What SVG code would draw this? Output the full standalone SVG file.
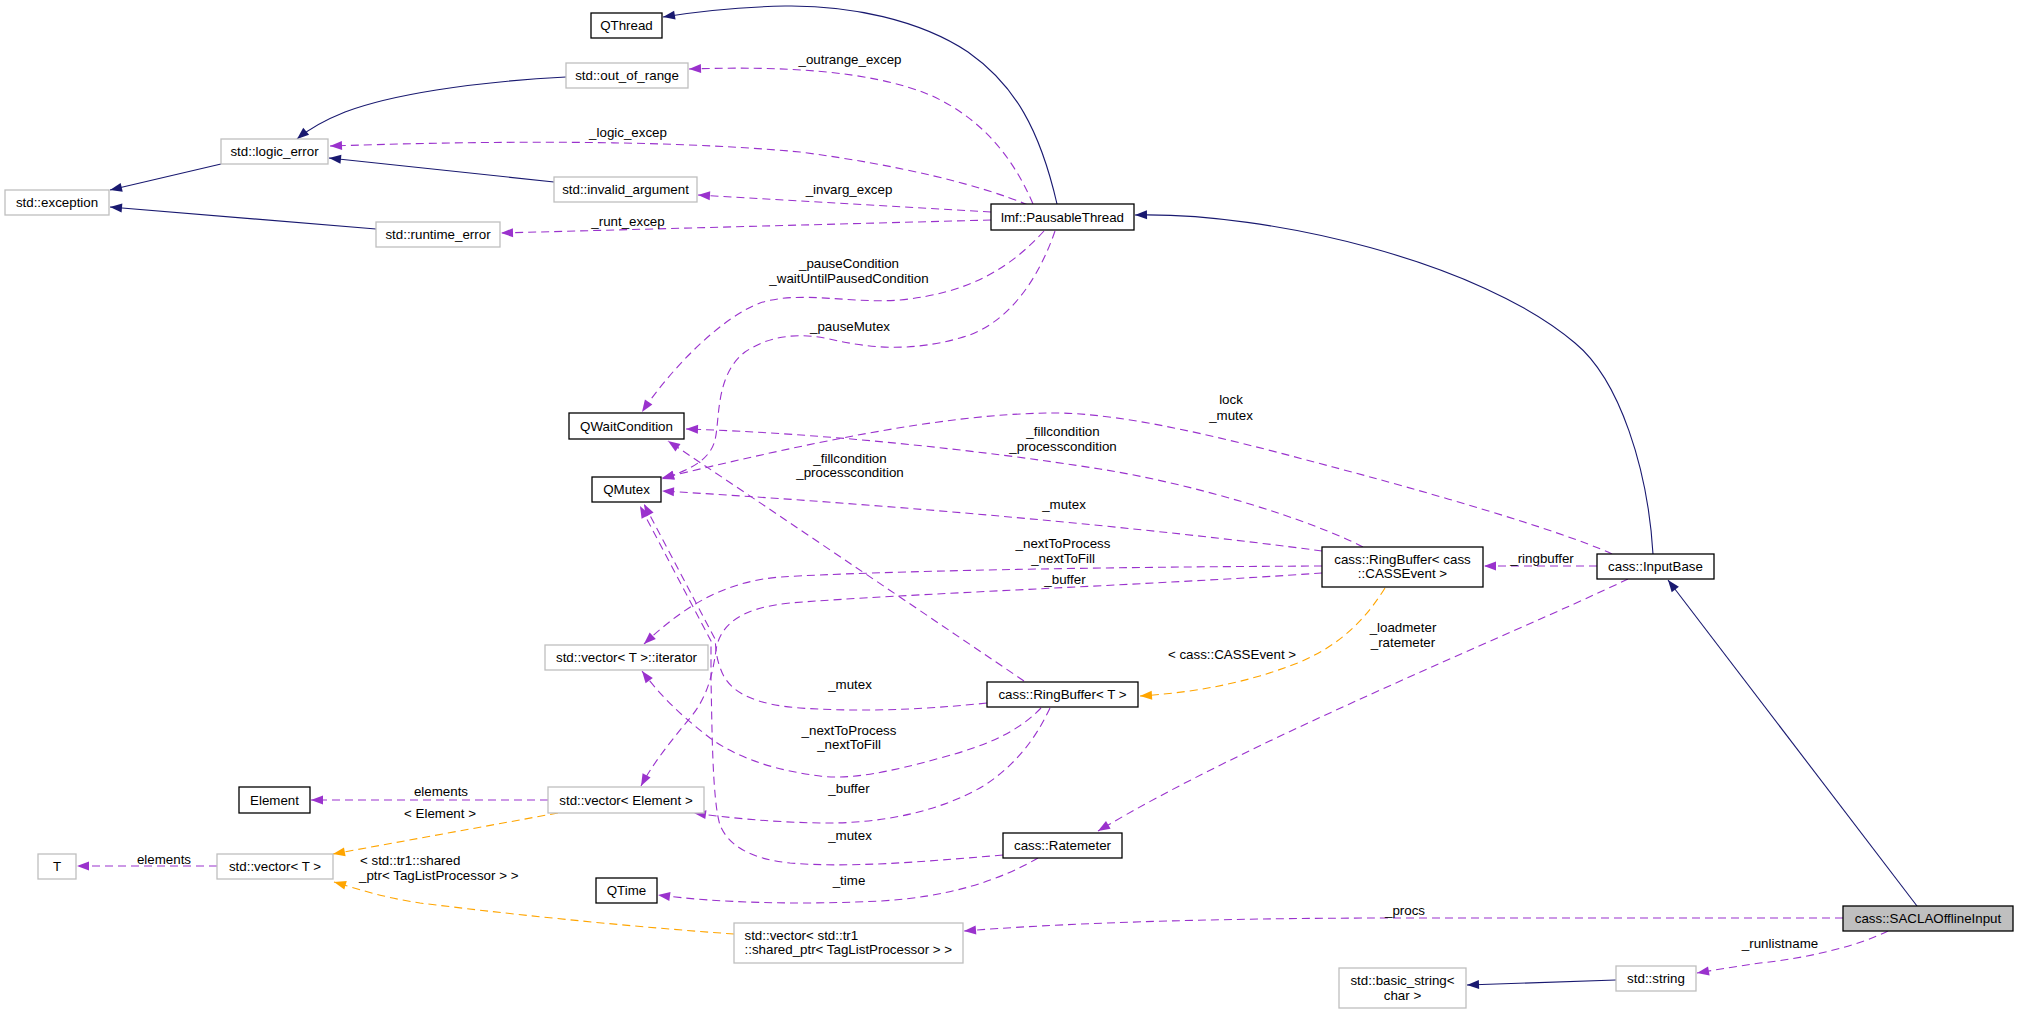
<svg xmlns="http://www.w3.org/2000/svg" width="2019" height="1013" viewBox="0 0 2019 1013">
<defs>
<style>
text{font-family:"Liberation Sans",Arial,sans-serif;font-size:13.33px;fill:#000}
.c{text-anchor:middle}
.l{text-anchor:start}
.nb{fill:#fff;stroke:#000;stroke-width:1.3}
.ng{fill:#fff;stroke:#bfbfbf;stroke-width:1.3}
.sel{fill:#bfbfbf;stroke:#000;stroke-width:1.3}
.inh{fill:none;stroke:#191970;stroke-width:1.1;marker-end:url(#an)}
.use{fill:none;stroke:#9a32cd;stroke-width:1.1;stroke-dasharray:8,5;marker-end:url(#ap)}
.tpl{fill:none;stroke:#ffa500;stroke-width:1.1;stroke-dasharray:8,5;marker-end:url(#ao)}
</style>
<marker id="an" markerUnits="userSpaceOnUse" markerWidth="14" markerHeight="10" refX="12" refY="4.5" orient="auto" overflow="visible"><path d="M0,0 L12,4.5 L0,9 z" fill="#191970"/></marker>
<marker id="ap" markerUnits="userSpaceOnUse" markerWidth="14" markerHeight="10" refX="12" refY="4.5" orient="auto" overflow="visible"><path d="M0,0 L12,4.5 L0,9 z" fill="#9a32cd"/></marker>
<marker id="ao" markerUnits="userSpaceOnUse" markerWidth="14" markerHeight="10" refX="12" refY="4.5" orient="auto" overflow="visible"><path d="M0,0 L12,4.5 L0,9 z" fill="#ffa500"/></marker>
</defs>
<rect x="0" y="0" width="2019" height="1013" fill="#ffffff"/>

<g id="connectors">
  <!-- inheritance -->
  <path class="inh" d="M1057,204 C1040,130 1015,85 968,52 C920,20 850,5 785,6 C740,7 700,11 663,17"/>
  <path class="inh" d="M566,77 C470,82 390,95 345,112 C325,120 310,128 297,139"/>
  <path class="inh" d="M221,164 L110,190"/>
  <path class="inh" d="M554,182 L329,158"/>
  <path class="inh" d="M376,229 L110,207"/>
  <path class="inh" d="M1653,554 C1648,470 1620,380 1575,343 C1480,262 1270,212 1135,215"/>
  <path class="inh" d="M1917,906 L1668,580"/>
  <path class="inh" d="M1616,980 L1467,985"/>

  <!-- usage -->
  <g><path class="use" d="M1033,204 C1010,150 975,115 930,95 C870,70 780,66 689,69"/><text class="c" x="850" y="64">_outrange_excep</text></g>
  <g><path class="use" d="M1028,205 C980,185 900,165 800,152 C650,138 450,142 330,146"/><text class="c" x="628" y="137">_logic_excep</text></g>
  <g><path class="use" d="M991,212 L698,195"/><text class="c" x="849" y="194">_invarg_excep</text></g>
  <g><path class="use" d="M991,220 L501,233"/><text class="c" x="628" y="226">_runt_excep</text></g>
  <g><path class="use" d="M1044,231 C1010,268 970,293 900,300 C850,304 800,290 760,303 C720,318 670,370 642,412"/><text class="c" x="849" y="268">_pauseCondition</text><text class="c" x="849" y="283">_waitUntilPausedCondition</text></g>
  <g><path class="use" d="M1055,231 C1040,275 1010,325 960,338 C910,352 870,348 834,340 C800,332 770,335 745,352 C715,375 720,420 715,440 C710,460 690,470 662,479"/><text class="c" x="850" y="331">_pauseMutex</text></g>
  <g><path class="use" d="M1612,554 C1560,530 1420,490 1333,467 C1250,445 1130,412 1050,413 C940,414 800,445 662,478"/><text class="c" x="1231" y="404">lock</text><text class="c" x="1231" y="420">_mutex</text></g>
  <g><path class="use" d="M1363,547 C1310,520 1200,485 1100,469 C980,450 820,433 686,429"/><text class="c" x="1063" y="436">_fillcondition</text><text class="c" x="1063" y="451">_processcondition</text></g>
  <g><path class="use" d="M1024,681 C900,597 780,516 668,441"/><text class="c" x="850" y="463">_fillcondition</text><text class="c" x="850" y="477">_processcondition</text></g>
  <g><path class="use" d="M1322,551 C1150,528 900,505 662,491"/><text class="c" x="1064" y="509">_mutex</text></g>
  <g><path class="use" d="M1322,566 C1100,567 880,571 780,577 C720,582 680,610 644,644"/><text class="c" x="1063" y="548">_nextToProcess</text><text class="c" x="1063" y="563">_nextToFill</text></g>
  <g><path class="use" d="M1322,573 C1150,585 900,594 790,603 C740,608 720,625 716,650 C712,680 705,700 690,718 C670,742 652,765 641,786"/><text class="c" x="1065" y="584">_buffer</text></g>
  <g><path class="use" d="M1597,566 L1484,566"/><text class="c" x="1542" y="563">_ringbuffer</text></g>
  <g><path class="use" d="M1628,579 C1500,640 1250,740 1098,831"/><text class="c" x="1403" y="632">_loadmeter</text><text class="c" x="1403" y="647">_ratemeter</text></g>
  <g><path class="use" d="M987,703 C920,710 860,712 800,708 C760,705 730,695 721,670 C715,655 716,645 715,639 L644,504"/><text class="c" x="850" y="689">_mutex</text></g>
  <g><path class="use" d="M1003,855 C920,862 850,868 790,863 C750,859 728,845 720,825 C712,800 712,720 711,680 C711,660 711,650 711,641 L640,506"/><text class="c" x="850" y="840">_mutex</text></g>
  <g><path class="use" d="M1041,708 C1020,730 990,745 940,758 C890,772 850,780 820,776 C780,771 740,760 710,738 C680,715 660,695 642,671"/><text class="c" x="849" y="735">_nextToProcess</text><text class="c" x="849" y="749">_nextToFill</text></g>
  <g><path class="use" d="M1050,708 C1035,740 1015,765 985,785 C940,812 880,824 820,823 C770,822 730,818 694,813"/><text class="c" x="849" y="793">_buffer</text></g>
  <g><path class="use" d="M548,800 L311,800"/><text class="c" x="441" y="796">elements</text></g>
  <g><path class="use" d="M217,866 L77,866"/><text class="c" x="164" y="864">elements</text></g>
  <g><path class="use" d="M1038,858 C1000,880 950,897 880,901 C800,905 720,903 658,895"/><text class="c" x="849" y="885">_time</text></g>
  <g><path class="use" d="M1843,918 L1400,918 C1200,918 1050,924 964,931"/><text class="c" x="1405" y="915">_procs</text></g>
  <g><path class="use" d="M1888,931 C1860,945 1810,958 1760,963 C1740,966 1720,969 1697,973"/><text class="c" x="1780" y="948">_runlistname</text></g>

  <!-- template instantiation -->
  <g><path class="tpl" d="M1385,588 C1365,620 1340,645 1300,662 C1250,682 1200,692 1140,696"/><text class="c" x="1232" y="659">&lt; cass::CASSEvent &gt;</text></g>
  <g><path class="tpl" d="M558,813 L333,854"/><text class="c" x="440" y="818">&lt; Element &gt;</text></g>
  <g><path class="tpl" d="M734,934 C620,926 500,913 420,903 C380,897 355,888 334,882"/><text class="l" x="360" y="865">&lt; std::tr1::shared</text><text class="l" x="359" y="880">_ptr&lt; TagListProcessor &gt; &gt;</text></g>
</g>

<g id="QThread"><rect class="nb" x="591" y="13" width="71" height="25"/><text class="c" x="626.5" y="30">QThread</text></g>
<g id="std_out_of_range"><rect class="ng" x="566" y="63" width="122" height="25"/><text class="c" x="627" y="80">std::out_of_range</text></g>
<g id="std_logic_error"><rect class="ng" x="221" y="139" width="107" height="25"/><text class="c" x="274.5" y="156">std::logic_error</text></g>
<g id="std_exception"><rect class="ng" x="5" y="190" width="104" height="25"/><text class="c" x="57" y="207">std::exception</text></g>
<g id="std_invalid_argument"><rect class="ng" x="554" y="177" width="143" height="25"/><text class="c" x="625.5" y="194">std::invalid_argument</text></g>
<g id="std_runtime_error"><rect class="ng" x="376" y="222" width="124" height="25"/><text class="c" x="438" y="239">std::runtime_error</text></g>
<g id="PausableThread"><rect class="nb" x="991" y="204" width="143" height="26"/><text class="c" x="1062.5" y="222">lmf::PausableThread</text></g>
<g id="QWaitCondition"><rect class="nb" x="569" y="413" width="115" height="26"/><text class="c" x="626.5" y="431">QWaitCondition</text></g>
<g id="QMutex"><rect class="nb" x="592" y="477" width="69" height="25"/><text class="c" x="626.5" y="494">QMutex</text></g>
<g id="vector_iterator"><rect class="ng" x="545" y="645" width="163" height="25"/><text class="c" x="626.5" y="662">std::vector&lt; T &gt;::iterator</text></g>
<g id="Element"><rect class="nb" x="239" y="787" width="71" height="26"/><text class="c" x="274.5" y="805">Element</text></g>
<g id="vector_Element"><rect class="ng" x="548" y="787" width="156" height="26"/><text class="c" x="626" y="805">std::vector&lt; Element &gt;</text></g>
<g id="T"><rect class="ng" x="38" y="854" width="38" height="25"/><text class="c" x="57" y="871">T</text></g>
<g id="vector_T"><rect class="ng" x="217" y="854" width="116" height="25"/><text class="c" x="275" y="871">std::vector&lt; T &gt;</text></g>
<g id="QTime"><rect class="nb" x="596" y="878" width="61" height="25"/><text class="c" x="626.5" y="895">QTime</text></g>
<g id="RingBuffer_T"><rect class="nb" x="987" y="682" width="151" height="25"/><text class="c" x="1062.5" y="699">cass::RingBuffer&lt; T &gt;</text></g>
<g id="Ratemeter"><rect class="nb" x="1003" y="833" width="119" height="25"/><text class="c" x="1062.5" y="850">cass::Ratemeter</text></g>
<g id="vector_shared_ptr"><rect class="ng" x="734" y="923" width="229" height="40"/><text class="l" x="744.5" y="939.5">std::vector&lt; std::tr1</text><text class="l" x="744.5" y="954">::shared_ptr&lt; TagListProcessor &gt; &gt;</text></g>
<g id="basic_string"><rect class="ng" x="1339" y="968" width="127" height="40"/><text class="c" x="1402.5" y="984.5">std::basic_string&lt;</text><text class="c" x="1402.5" y="999.5">char &gt;</text></g>
<g id="RingBuffer_CASSEvent"><rect class="nb" x="1322" y="547" width="161" height="40"/><text class="c" x="1402.5" y="563.5">cass::RingBuffer&lt; cass</text><text class="c" x="1402.5" y="577.5">::CASSEvent &gt;</text></g>
<g id="InputBase"><rect class="nb" x="1597" y="554" width="117" height="25"/><text class="c" x="1655.5" y="571">cass::InputBase</text></g>
<g id="SACLAOfflineInput"><rect class="sel" x="1843" y="906" width="170" height="25"/><text class="c" x="1928" y="923">cass::SACLAOfflineInput</text></g>
<g id="std_string"><rect class="ng" x="1616" y="966" width="80" height="25"/><text class="c" x="1656" y="983">std::string</text></g>
</svg>
